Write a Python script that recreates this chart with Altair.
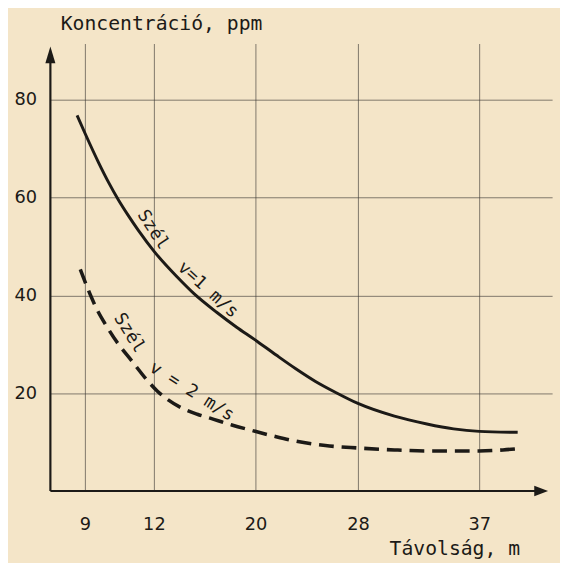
import altair as alt
import pandas as pd

# ---- data ----
x_ticks = [9, 12, 20, 28, 37]
y_ticks = [20, 40, 60, 80]

solid_x = [8.66, 9.0, 9.6, 10.03, 10.46, 10.89, 11.31, 12.08, 13.86, 15.18, 16.97, 18.52,
           19.92, 21.62, 23.15, 24.69, 26.23, 28.0, 30.71, 33.12, 35.1, 37.0, 39.85]
solid_y = [76.8, 73.2, 67.1, 63.1, 59.5, 56.3, 53.4, 48.8, 43.7, 40.3, 36.5, 33.5,
           31.0, 27.8, 25.0, 22.4, 20.2, 17.9, 15.3, 13.7, 12.7, 12.2, 12.0]

dashed_x = [8.8, 8.98, 9.22, 9.55, 9.97, 10.4, 11.04, 11.68, 12.28, 13.09, 14.25, 15.42,
            16.43, 18.14, 19.84, 21.62, 23.15, 25.46, 28.0, 30.71, 33.12, 37.0, 38.76, 40.0]
dashed_y = [45.3, 43.1, 40.3, 36.9, 33.5, 30.4, 26.6, 22.8, 20.4, 18.7, 16.9, 15.7,
            14.9, 13.5, 12.3, 11.1, 10.2, 9.3, 8.8, 8.4, 8.2, 8.2, 8.4, 8.7]

label_text = ["Szél", "v=1 m/s", "Szél", "v = 2 m/s"]
label_x = [11.95, 16.25, 10.92, 14.98]
label_y = [53.4, 41.1, 32.3, 20.3]
label_angle = [57, 42, 58, 32]

x_title = "Távolság, m"
y_title = "Koncentráció, ppm"

# axis extents (data units)
x_min, x_max, x_arrow = 7.5, 42.4, 42.1
y_min, y_max, y_arrow = 0, 91.5, 90.9

# ---- tables ----
solid_df = pd.DataFrame({"x": solid_x, "y": solid_y})
dashed_df = pd.DataFrame({"x": dashed_x, "y": dashed_y})
labels = pd.DataFrame({"t": label_text, "x": label_x, "y": label_y, "a": label_angle})

FONT = "DejaVu Sans"
LFONT = "DejaVu Sans Mono"
INK = "#1c1a17"

xs = alt.Scale(domain=[x_min, 9, 12, 20, 28, 37, x_max],
               range=[0, 35, 105, 208, 312, 435, 509], nice=False, zero=False)
ys = alt.Scale(domain=[y_min, y_max], nice=False, zero=False)

x_axis = alt.Axis(values=x_ticks, domain=False, ticks=False, grid=True,
                  gridColor="#3c3a36", gridWidth=0.8, gridOpacity=0.8,
                  labelFont=FONT, labelFontSize=18, labelColor=INK, labelPadding=25,
                  labelFlush=False, labelOverlap=False,
                  title=x_title, titleFont=LFONT, titleFontSize=20, titleFontWeight="normal",
                  titleColor=INK, titleX=476, titleY=58, titleAlign="right",
                  titleBaseline="middle", titleAngle=0)
y_axis = alt.Axis(values=y_ticks, domain=False, ticks=False, grid=True,
                  gridColor="#3c3a36", gridWidth=0.8, gridOpacity=0.8,
                  labelFont=FONT, labelFontSize=18, labelColor=INK, labelPadding=14,
                  labelFlush=False, labelOverlap=False,
                  title=y_title, titleFont=LFONT, titleFontSize=20, titleFontWeight="normal",
                  titleColor=INK, titleX=10, titleY=-20, titleAlign="left",
                  titleBaseline="middle", titleAngle=0)


def X(f):
    return alt.X(f, type="quantitative", scale=xs, axis=x_axis)


def Y(f):
    return alt.Y(f, type="quantitative", scale=ys, axis=y_axis)


solid = alt.Chart(solid_df).mark_line(color=INK, strokeWidth=3, interpolate="monotone").encode(
    x=X("x"), y=Y("y"))
dashed = alt.Chart(dashed_df).mark_line(color=INK, strokeWidth=3.6, strokeDash=[15, 8],
                                        interpolate="monotone").encode(x=X("x"), y=Y("y"))

axes_df = pd.DataFrame({"x": [x_min, x_min], "x2": [x_arrow - 0.6, x_min],
                        "y": [y_min, y_min], "y2": [y_min, y_arrow - 2]})
axes = alt.Chart(axes_df).mark_rule(color=INK, strokeWidth=2.2).encode(
    x=X("x"), x2="x2", y=Y("y"), y2="y2")

xarrow = alt.Chart(pd.DataFrame({"x": [x_arrow], "y": [y_min]})).mark_point(
    shape="M-1,-0.38 L0,0 L-1,0.38 Z", size=784, filled=True, color=INK, opacity=1,
    strokeWidth=0).encode(x=X("x"), y=Y("y"))
yarrow = alt.Chart(pd.DataFrame({"x": [x_min], "y": [y_arrow]})).mark_point(
    shape="M-0.3,1 L0,0 L0.3,1 Z", size=1156, filled=True, color=INK, opacity=1,
    strokeWidth=0).encode(x=X("x"), y=Y("y"))

text = alt.Chart(labels).mark_text(font=LFONT, fontSize=18, color=INK, align="center",
                                   baseline="middle").encode(
    x=X("x"), y=Y("y"), text="t:N", angle=alt.Angle("a:Q", scale=None))

chart = alt.layer(solid, dashed, axes, xarrow, yarrow, text).properties(
    width=509, height=454,
    autosize=alt.AutoSizeParams(type="none"),
    padding={"left": 43, "top": 32, "right": 8, "bottom": 69},
    background="#f4e5c8",
).configure_view(stroke=None)

chart.save("out.html", embed_options={"renderer": "svg", "actions": False})
